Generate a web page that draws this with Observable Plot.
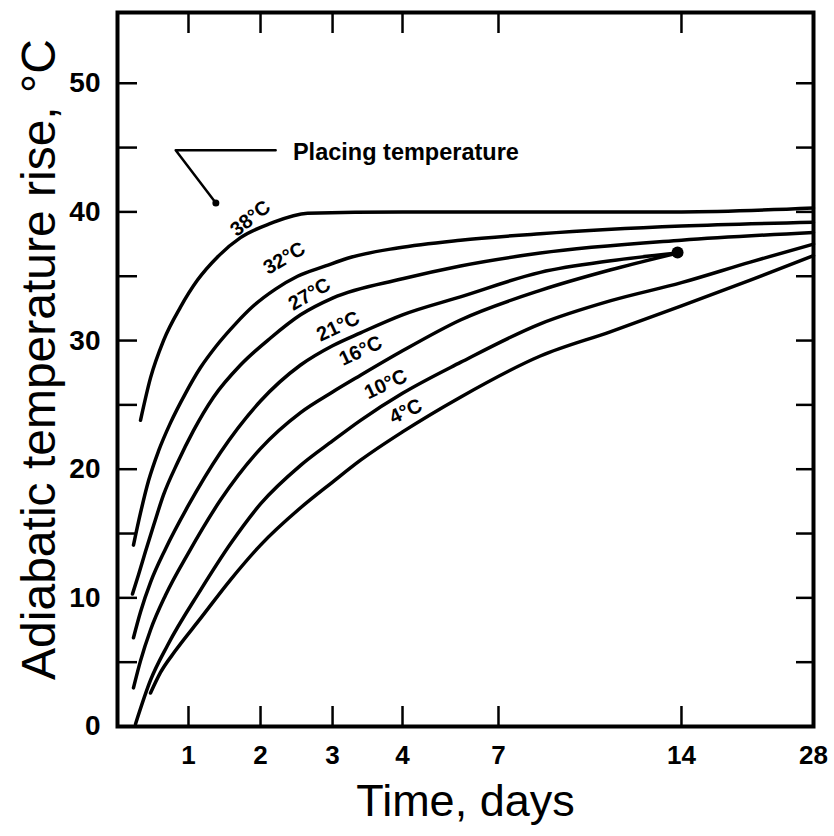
<!DOCTYPE html>
<html>
<head>
<meta charset="utf-8">
<script src="https://cdn.jsdelivr.net/npm/d3@7"></script>
<script src="https://cdn.jsdelivr.net/npm/@observablehq/plot@0.6"></script>
<style>
  html, body { margin: 0; padding: 0; background: #fff; }
  #chart { width: 834px; height: 836px; }
</style>
</head>
<body>
<div id="chart"></div>
<script>
// ---- data (time in days, adiabatic temperature rise in °C) ----
const placingTemps = ["38°C", "32°C", "27°C", "21°C", "16°C", "10°C", "4°C"];

const rise38 = [[0.324,23.8],[0.465,27.1],[0.648,30.0],[0.887,32.6],[1.125,34.7],[1.403,36.5],[1.722,38.0],[2.139,39.1],[2.653,39.9],[4,40.0],[8.6,40.0],[14,40.0],[28,40.3]];
const rise32 = [[0.225,14.1],[0.324,16.6],[0.437,19.1],[0.577,21.4],[0.746,23.6],[0.958,25.9],[1.167,27.9],[1.375,29.5],[1.653,31.3],[1.903,32.7],[2.208,34.0],[2.514,35.0],[2.903,35.8],[3.214,36.4],[3.929,37.2],[5.81,37.8],[8.6,38.3],[14,38.9],[28,39.2]];
const rise27 = [[0.211,10.3],[0.296,11.8],[0.394,13.6],[0.507,15.6],[0.648,18.0],[0.845,20.5],[1.069,23.0],[1.347,25.6],[1.722,28.1],[2.139,30.2],[2.556,32.0],[3,33.3],[4,34.8],[5.81,35.8],[8.6,36.8],[14,37.8],[28,38.4]];
const rise21 = [[0.225,6.9],[0.324,8.9],[0.465,11.2],[0.676,13.8],[1,17.2],[1.444,21.3],[2,25.3],[2.556,28.1],[3,29.6],[3.4,30.6],[4,32.0],[5.81,33.4],[8.6,35.3],[11.3,36.2],[13.85,36.8]];
const rise16 = [[0.225,3.0],[0.324,5.1],[0.465,7.5],[0.676,10.2],[1,13.5],[1.444,17.6],[2,21.6],[2.556,24.4],[3,26.0],[3.4,27.3],[4,29.2],[5.81,31.6],[8.6,33.9],[11.3,35.5],[13.85,36.8]];
const rise10 = [[0.254,0.2],[0.465,3.6],[0.704,6.3],[1.167,10.6],[1.583,14.2],[2,17.3],[2.556,20.3],[3,22.2],[3.4,23.8],[4,25.9],[5.81,28.3],[8.6,31.3],[11.3,33.1],[14,34.5],[21.3,36.1],[28,37.5]];
const rise4  = [[0.465,2.6],[0.606,4.2],[0.817,5.9],[1.167,8.4],[1.583,11.4],[2,14.1],[2.556,17.0],[3,19.0],[3.4,20.7],[4,22.9],[5.81,25.6],[8.6,28.8],[11.3,30.7],[14,32.7],[21.3,34.7],[28,36.6]];
const seriesValues = [rise38, rise32, rise27, rise21, rise16, rise10, rise4];

// label anchors on each curve: [day, °C, rotation]
const labelDays   = [1.86, 2.33, 2.68, 3.08, 3.40, 3.76, 4.10];
const labelValues = [39.5, 36.4, 33.6, 31.1, 29.2, 26.6, 24.5];
const labelAngles = [-38, -30, -30, -25, -25, -25, -25];

// end blob where the 21°C / 16°C curves stop
const endBlob = [[13.85, 36.84]];

// "Placing temperature" call-out
const calloutText = "Placing temperature";
const calloutAt = [2.45, 44.6];
const calloutPath = [[2.21, 44.8], [0.82, 44.8], [1.38, 40.7]];

const xTickDays = [1, 2, 3, 4, 7, 14, 28];
const xInnerTicks = [1, 2, 3, 4, 7, 14];
const xBreaks = [0, 1, 2, 3, 4, 7, 14, 28];
const yLabelTicks = [0, 10, 20, 30, 40, 50];
const yMinorTicks = [5, 10, 15, 20, 25, 30, 35, 40, 45, 50];

// ---- build tables ----
const curves = seriesValues.flatMap((s, i) => s.map(([d, v]) => ({temp: placingTemps[i], day: d, rise: v})));
const labels = placingTemps.map((t, i) => ({text: t, day: labelDays[i], rise: labelValues[i], angle: labelAngles[i]}));

// ---- layout ----
const W = 834, H = 836;
const mL = 117, mR = 21, mT = 12, mB = 110;
const xFrac = [0, 0.102, 0.2055, 0.309, 0.4095, 0.5474, 0.8103, 1];
const xRange = xFrac.map(f => mL + f * (W - mL - mR));

const font = "'Liberation Sans', Arial, Helvetica, sans-serif";

const chart = Plot.plot({
  width: W,
  height: H,
  marginLeft: mL,
  marginRight: mR,
  marginTop: mT,
  marginBottom: mB,
  style: {fontFamily: font, background: "white", color: "black", overflow: "visible"},
  x: {type: "linear", domain: xBreaks, range: xRange},
  y: {domain: [0, 55.5]},
  marks: [
    // inward ticks
    Plot.axisX({anchor: "bottom", ticks: xInnerTicks, tickSize: -20, tickFormat: () => "", strokeWidth: 2.5, label: null}),
    Plot.axisX({anchor: "top", ticks: xInnerTicks, tickSize: -20, tickFormat: () => "", strokeWidth: 2.5, label: null}),
    Plot.axisY({anchor: "left", ticks: yMinorTicks, tickSize: -20, tickFormat: () => "", strokeWidth: 2.5, label: null}),
    Plot.axisY({anchor: "right", ticks: yMinorTicks, tickSize: -18, tickFormat: () => "", strokeWidth: 2.5, label: null}),
    // tick labels
    Plot.axisX({anchor: "bottom", ticks: xTickDays, tickSize: 0, tickPadding: 19, fontSize: 26, fontWeight: "bold", label: null}),
    Plot.axisY({anchor: "left", ticks: yLabelTicks, tickSize: 0, tickPadding: 17, fontSize: 28, fontWeight: "bold", label: null}),
    // axis titles
    Plot.text(["Time, days"], {frameAnchor: "bottom", dy: 89, fontSize: 45, text: d => d}),
    Plot.text(["Adiabatic temperature rise, °C"], {frameAnchor: "left", textAnchor: "middle", dx: -78, dy: -10, rotate: -90, fontSize: 48, text: d => d}),
    // curves
    Plot.line(curves, {x: "day", y: "rise", z: "temp", curve: "monotone-x", stroke: "black", strokeWidth: 3.5}),
    Plot.dot(endBlob, {x: d => d[0], y: d => d[1], r: 6, fill: "black"}),
    // curve labels
    Plot.text(labels, {x: "day", y: "rise", text: "text", rotate: "angle", fontSize: 20, fontWeight: "bold", fill: "black"}),
    // call-out
    Plot.line(calloutPath, {x: d => d[0], y: d => d[1], stroke: "black", strokeWidth: 2.5}),
    Plot.dot([calloutPath[calloutPath.length - 1]], {x: d => d[0], y: d => d[1], r: 3.5, fill: "black"}),
    Plot.text([calloutText], {x: calloutAt[0], y: calloutAt[1], text: d => d, textAnchor: "start", fontSize: 23.5, fontWeight: "bold"}),
    Plot.frame({stroke: "black", strokeWidth: 4})
  ]
});
document.getElementById("chart").appendChild(chart);
</script>
</body>
</html>
